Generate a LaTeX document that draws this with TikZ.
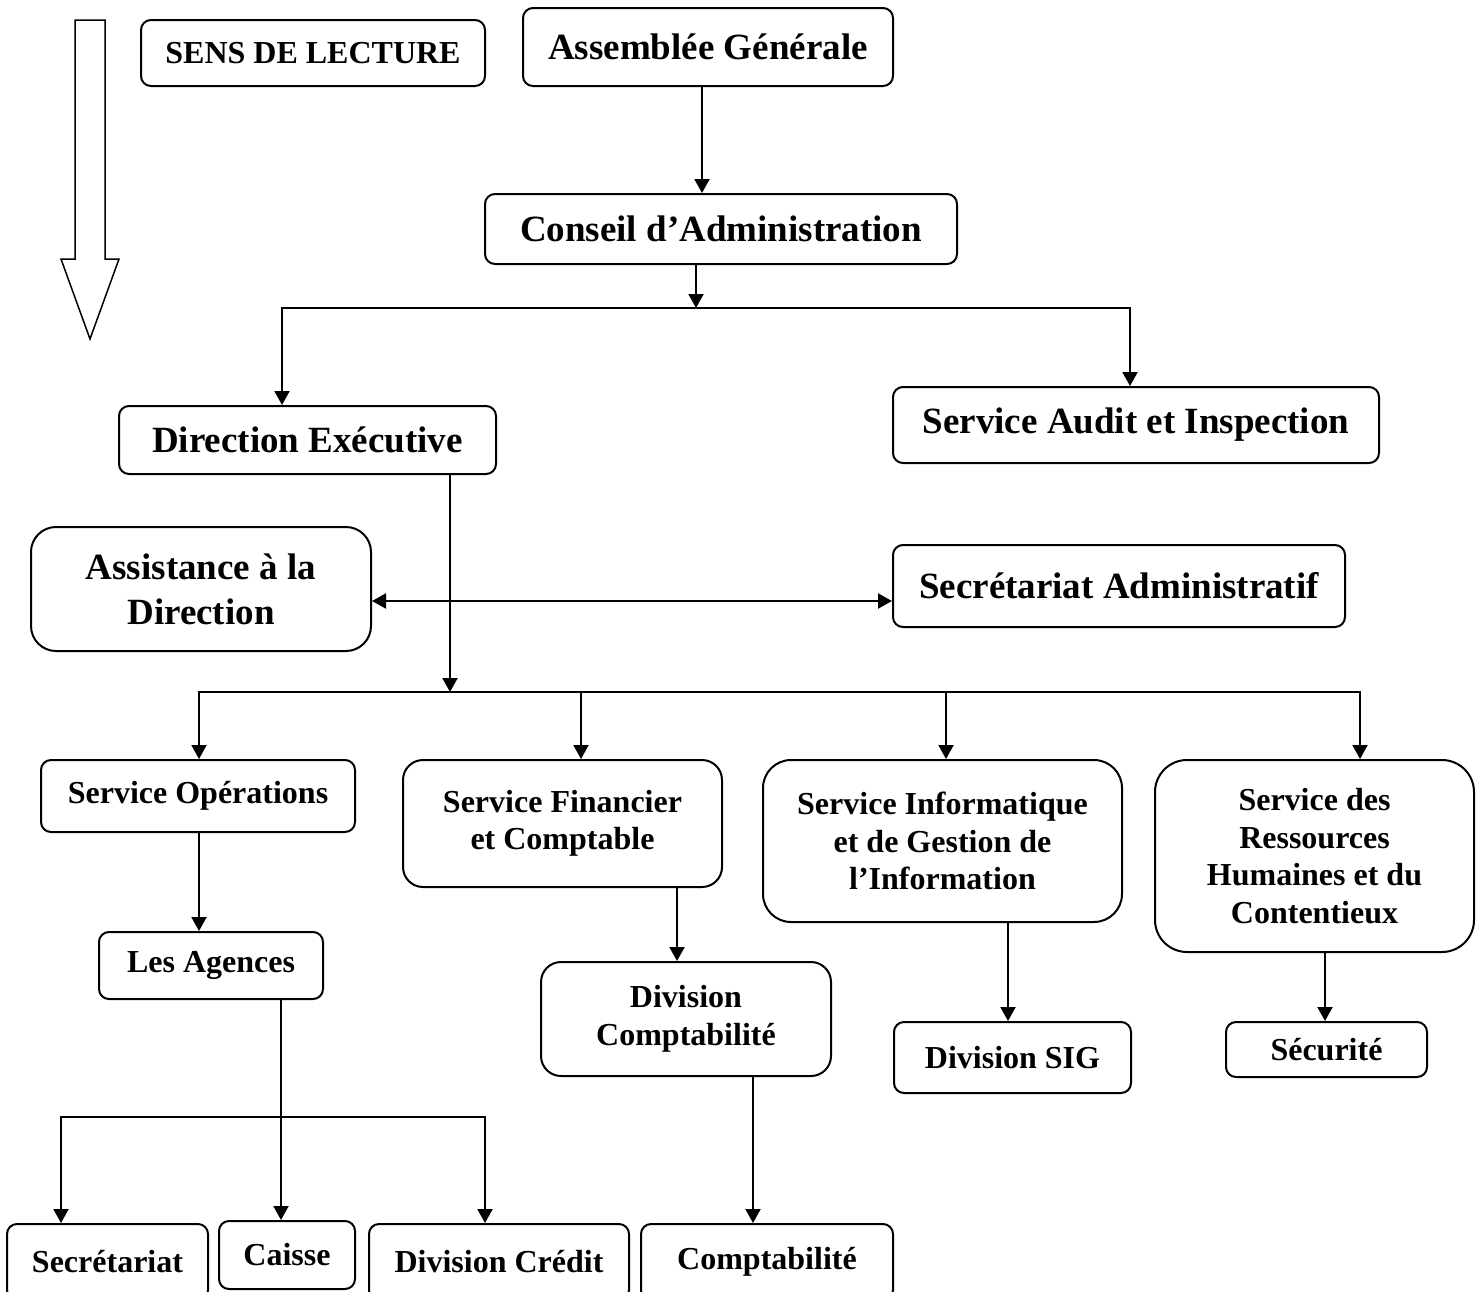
\documentclass[tikz,border=0pt]{standalone}
\usepackage{fontspec}
\setmainfont{Liberation Serif}
\usetikzlibrary{arrows.meta}

\tikzset{
  unit/.style={draw,line width=2pt,rounded corners=10pt,inner sep=0pt,align=center,
    font=\fontsize{32}{37.5}\selectfont\bfseries},
  bigunit/.style={unit,font=\fontsize{37}{45}\selectfont\bfseries},
  link/.style={line width=2pt,-{Triangle[length=14pt,width=15pt]}},
  twolink/.style={line width=2pt,{Triangle[length=14pt,width=15pt]}-{Triangle[length=14pt,width=15pt]}},
}

\begin{document}
\begin{tikzpicture}[x=1pt,y=-1pt,line width=2pt]
\useasboundingbox (0,0) rectangle (1481,1291);
% reading direction
\draw[line width=1.5pt] (75,20) -- (105,20) -- (105,259) -- (119,259) -- (90,339) -- (61,259) -- (75,259) -- cycle;
\node[unit,minimum width=344pt,minimum height=66pt] (sens) at (313,53) {SENS DE LECTURE};
% top levels
\node[bigunit,minimum width=370pt,minimum height=78pt] (ag) at (708,47) {Assemblée Générale};
\node[bigunit,minimum width=472pt,minimum height=70pt] (ca) at (721,229) {Conseil d’Administration};
\node[bigunit,minimum width=377pt,minimum height=68pt] (de) at (307.5,440) {Direction Exécutive};
\node[bigunit,minimum width=486pt,minimum height=76pt] (audit) at (1136,425) {Service Audit et Inspection};
\node[bigunit,minimum width=340pt,minimum height=124pt,rounded corners=25pt] (assist) at (201,589) {Assistance à la\\Direction};
\node[bigunit,minimum width=452pt,minimum height=82pt] (secadm) at (1119,586) {Secrétariat Administratif};
% services
\node[unit,minimum width=314pt,minimum height=72pt] (sop) at (198,796) {Service Opérations};
\node[unit,minimum width=319pt,minimum height=127pt,rounded corners=20pt] (sfin) at (562.5,823.5) {Service Financier\\et Comptable};
\node[unit,minimum width=359pt,minimum height=162pt,rounded corners=28pt] (sinf) at (942.5,841) {Service Informatique\\et de Gestion de\\l’Information};
\node[unit,minimum width=319pt,minimum height=192pt,rounded corners=32pt] (srh) at (1314.5,856) {Service des\\Ressources\\Humaines et du\\Contentieux};
% divisions
\node[unit,minimum width=224pt,minimum height=67pt] (agences) at (211,965.5) {Les Agences};
\node[unit,minimum width=290pt,minimum height=114pt,rounded corners=20pt] (divc) at (686,1019) {Division\\Comptabilité};
\node[unit,minimum width=237pt,minimum height=71pt] (sig) at (1012.5,1057.5) {Division SIG};
\node[unit,minimum width=201pt,minimum height=55pt] (secu) at (1326.5,1049.5) {Sécurité};
% bottom row
\node[unit,minimum width=201pt,minimum height=76pt] (secr) at (107.5,1262) {Secrétariat};
\node[unit,minimum width=136pt,minimum height=68pt] (caisse) at (287,1255) {Caisse};
\node[unit,minimum width=260pt,minimum height=76pt] (credit) at (499,1262) {Division Crédit};
\node[unit,minimum width=252pt,minimum height=76pt] (compta) at (767,1262) {Comptabilité};

\coordinate (split1) at (696,308);
\coordinate (split2) at (450,692);
\coordinate (split3) at (281,1117);

\draw[link] ([xshift=-6pt]ag.south) -- ([xshift=-19pt]ca.north);
\draw[link] ([xshift=-25pt]ca.south) -- (split1);
\draw[link] (split1) -| ([xshift=-25.5pt]de.north);
\draw[link] (split1) -| ([xshift=-6pt]audit.north);
\draw[link] ([xshift=142.5pt]de.south) -- (split2);
\draw[twolink] ([yshift=-12pt]assist.east) -- ([yshift=-15pt]secadm.west);
\draw[link] (split2) -| ([xshift=1pt]sop.north);
\draw[link] (split2) -| ([xshift=18.5pt]sfin.north);
\draw[link] (split2) -| ([xshift=3.5pt]sinf.north);
\draw[link] (split2) -| ([xshift=45.5pt]srh.north);
\draw[link] ([xshift=1pt]sop.south) -- ([xshift=-12pt]agences.north);
\draw[link] ([xshift=70pt]agences.south) -- ([xshift=-6pt]caisse.north);
\draw[link] (split3) -| ([xshift=-46.5pt]secr.north);
\draw[link] (split3) -| ([xshift=-14pt]credit.north);
\draw[link] ([xshift=114.5pt]sfin.south) -- ([xshift=-9pt]divc.north);
\draw[link] ([xshift=67pt]divc.south) -- ([xshift=-14pt]compta.north);
\draw[link] ([xshift=65.5pt]sinf.south) -- ([xshift=-4.5pt]sig.north);
\draw[link] ([xshift=10.5pt]srh.south) -- ([xshift=-1.5pt]secu.north);
\end{tikzpicture}
\end{document}
